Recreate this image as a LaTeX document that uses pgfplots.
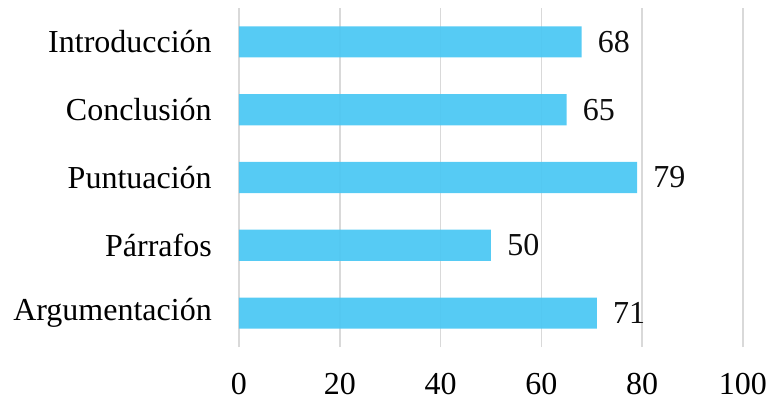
\documentclass[border=0pt]{standalone}
\usepackage{fontspec}
\setmainfont{Liberation Serif}
\usepackage{pgfplots}
\pgfplotsset{compat=1.18}
\usetikzlibrary{calc}
\definecolor{barblue}{HTML}{4DC8F3}
\definecolor{gridgray}{HTML}{D9D9D9}
\begin{document}
\begin{tikzpicture}
\begin{axis}[
  scale only axis,
  width=378pt, height=254.25pt,
  xbar, bar width=0.46,
  xmin=0, xmax=100,
  ymin=-0.5, ymax=4.5,
  xtick={0,20,...,100},
  ytick={0,1,2,3,4},
  yticklabels={Argumentación,Párrafos,Puntuación,Conclusión,Introducción},
  axis line style={draw=none},
  major tick length=0pt,
  xmajorgrids, grid style={gridgray, line width=1.1pt},
  tick label style={font=\fontsize{24}{28}\selectfont, text=black},
  /pgf/number format/assume math mode=true,
  xticklabel style={inner sep=0pt, anchor=north, yshift=-19.5pt},
  yticklabel style={inner sep=0pt, anchor=east, xshift=-20.25pt},
  nodes near coords,
  nodes near coords style={font=\fontsize{24}{28}\selectfont, text=black, anchor=west, inner sep=0pt, xshift=12pt},
  clip=false,
]
\addplot[fill=barblue, draw=none, fill opacity=0.95] coordinates {
  (71,0) (50,1) (79,2) (65,3) (68,4)
};
\coordinate (bl) at (rel axis cs:0,0);
\coordinate (tr) at (rel axis cs:1,1);
\end{axis}
\pgfresetboundingbox
\path ($(bl)+(-179.25pt,-40.5pt)$) rectangle ($(tr)+(19.5pt,6pt)$);
\end{tikzpicture}
\end{document}
